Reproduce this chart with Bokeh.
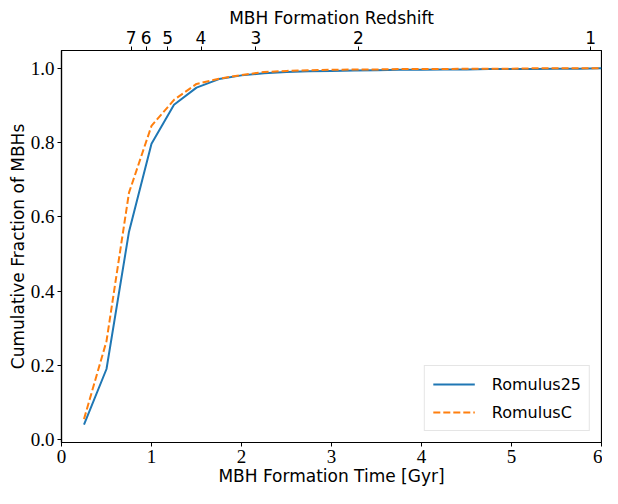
from bokeh.plotting import figure
from bokeh.models import Range1d, LinearAxis, FixedTicker, Legend, LegendItem
from bokeh.embed import file_html
from bokeh.resources import INLINE

# Data
time_gyr = [0.25, 0.5, 0.75, 1.0, 1.25, 1.5, 1.75, 2.0, 2.25, 2.5, 2.75, 3.0,
            3.25, 3.5, 3.75, 4.0, 4.25, 4.5, 4.75, 5.0, 5.25, 5.5, 5.75, 6.0]
romulus25 = [0.04, 0.19, 0.56, 0.797, 0.902, 0.948, 0.971, 0.981, 0.987, 0.990,
             0.992, 0.993, 0.994, 0.995, 0.996, 0.996, 0.997, 0.997, 0.998, 0.998,
             0.998, 0.999, 0.999, 1.0]
romulusC = [0.055, 0.265, 0.665, 0.845, 0.915, 0.958, 0.972, 0.982, 0.990, 0.993,
            0.995, 0.996, 0.997, 0.997, 0.998, 0.998, 0.998, 0.999, 0.999, 0.999,
            1.0, 1.0, 1.0, 1.0]
redshift_labels = ["7", "6", "5", "4", "3", "2", "1"]
redshift_times = [0.774, 0.942, 1.18, 1.55, 2.16, 3.30, 5.88]
y_ticks = [0.0, 0.2, 0.4, 0.6, 0.8, 1.0]
x_ticks = [0, 1, 2, 3, 4, 5, 6]

SERIF = "Liberation Serif"
SANS = "DejaVu Sans"

p = figure(width=602, height=488, output_backend="svg", toolbar_location=None,
           x_range=Range1d(0, 6), y_range=Range1d(-0.008, 1.048),
           min_border_left=61, min_border_top=50, min_border_right=1, min_border_bottom=46)
p.background_fill_color = "white"
p.border_fill_color = "white"
p.grid.visible = False
p.outline_line_color = "black"
p.outline_line_width = 1.2
p.outline_line_alpha = 1.0

r1 = p.line(time_gyr, romulus25, line_color="#1f77b4", line_width=2)
r2 = p.line(time_gyr, romulusC, line_color="#ff7f0e", line_width=2, line_dash="7 3")

def style_axis(ax, label_font, label_size):
    ax.major_tick_in = 0
    ax.major_tick_out = 4
    ax.minor_tick_line_color = None
    ax.axis_line_color = "black"
    ax.axis_line_width = 1.2
    ax.major_tick_line_color = "black"
    ax.major_tick_line_width = 1
    ax.major_label_text_font = label_font
    ax.major_label_text_font_size = label_size
    ax.major_label_text_color = "black"
    ax.axis_label_text_font = SANS
    ax.axis_label_text_font_size = "17px"
    ax.axis_label_text_font_style = "normal"
    ax.axis_label_text_color = "black"
    ax.major_label_standoff = 3
    ax.axis_label_standoff = 0

p.xaxis.ticker = FixedTicker(ticks=x_ticks)
p.yaxis.ticker = FixedTicker(ticks=y_ticks)
p.xaxis.axis_label = "MBH Formation Time [Gyr]"
p.yaxis.axis_label = "Cumulative Fraction of MBHs"
p.yaxis.major_label_overrides = {v: f"{v:.1f}" for v in y_ticks}
style_axis(p.xaxis[0], SERIF, "19px")
style_axis(p.yaxis[0], SERIF, "19px")

top = LinearAxis(ticker=FixedTicker(ticks=redshift_times),
                 major_label_overrides={t: s for t, s in zip(redshift_times, redshift_labels)},
                 axis_label="MBH Formation Redshift")
style_axis(top, SANS, "17px")
p.add_layout(top, "above")

legend = Legend(items=[LegendItem(label="Romulus25", renderers=[r1]),
                       LegendItem(label="RomulusC", renderers=[r2])],
                location="bottom_right")
legend.label_text_font = SANS
legend.label_text_font_size = "16px"
legend.label_text_color = "black"
legend.border_line_color = "#cccccc"
legend.border_line_width = 1
legend.background_fill_alpha = 0.8
legend.glyph_width = 42
legend.glyph_height = 20
legend.label_height = 20
legend.margin = 11
legend.padding = 8
legend.spacing = 8
legend.label_standoff = 17
p.add_layout(legend)

open("out.html", "w").write(file_html(p, INLINE))
